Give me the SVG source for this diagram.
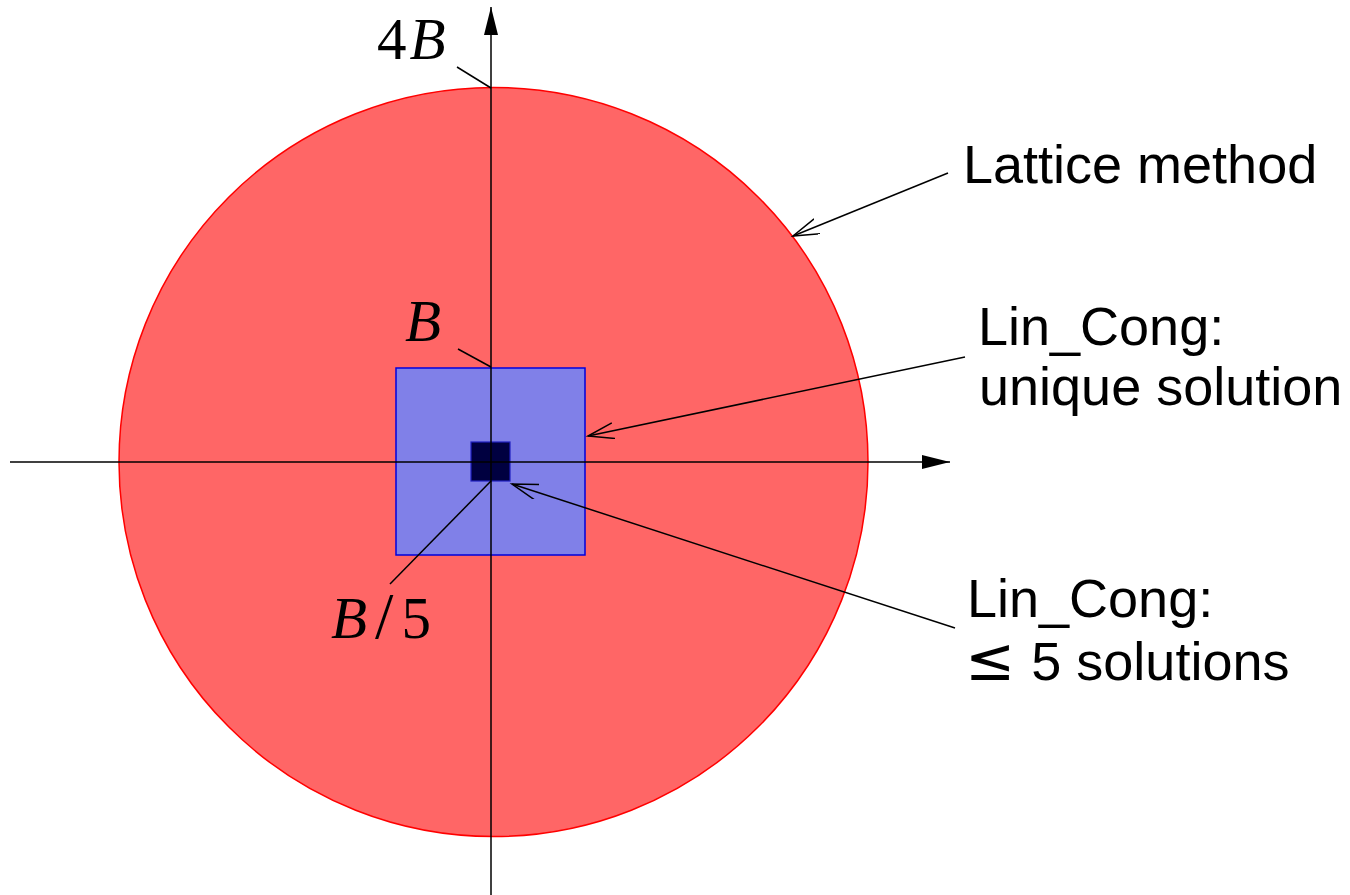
<svg xmlns="http://www.w3.org/2000/svg" width="1350" height="895" viewBox="0 0 1350 895">
<style>
.ax{stroke:#000;stroke-width:1.5;fill:none}
.ln{stroke:#000;stroke-width:1.5;fill:none}
.lbl{font-family:"Liberation Sans",Arial,sans-serif;font-size:54px;fill:#000}
.m{font-family:"Liberation Serif","Times New Roman",serif;font-size:59px;fill:#000}
.mi{font-style:italic}
</style>
<defs>
<marker id="fill" markerUnits="userSpaceOnUse" markerWidth="30" markerHeight="16" refX="28" refY="7" orient="auto" viewBox="0 0 30 16">
<path d="M0,0 L28,7 L0,14 Z" fill="#000"/>
</marker>
<marker id="open" markerUnits="userSpaceOnUse" markerWidth="30" markerHeight="20" refX="26" refY="8" orient="auto" viewBox="0 0 30 20">
<path d="M0,0 L26,8 L0,16" fill="none" stroke="#000" stroke-width="1.5"/>
</marker>
</defs>
<g id="circle"><circle cx="493.5" cy="462" r="374.5" fill="#FF6666" stroke="#FF0000" stroke-width="1.5"/></g>
<g id="square-B"><rect x="396" y="368" width="189" height="187" fill="#8080E8" stroke="#0000DD" stroke-width="1.5"/></g>
<g id="square-B5"><rect x="471" y="442" width="39" height="39" fill="#000040" stroke="#2020C0" stroke-width="1.2"/></g>
<g id="connectors">
<line class="ax" x1="491" y1="895" x2="491" y2="7" marker-end="url(#fill)"/>
<line class="ax" x1="10" y1="462" x2="950" y2="462" marker-end="url(#fill)"/>
<line class="ln" x1="457" y1="67" x2="491" y2="88"/>
<line class="ln" x1="458" y1="349" x2="491" y2="367"/>
<line class="ln" x1="390" y1="584" x2="491" y2="481"/>
<line class="ln" x1="948" y1="173" x2="793" y2="236" marker-end="url(#open)"/>
<line class="ln" x1="965" y1="357" x2="588" y2="436" marker-end="url(#open)"/>
<line class="ln" x1="955" y1="628" x2="512" y2="484" marker-end="url(#open)"/>
</g>
<g id="label-4B"><text class="m" x="377" y="59">4<tspan class="mi" dx="3">B</tspan></text></g>
<g id="label-B"><text class="m mi" x="405" y="341">B</text></g>
<g id="label-B5"><text class="m" x="331" y="638"><tspan class="mi">B</tspan><tspan dx="8" font-size="66">/</tspan><tspan dx="8">5</tspan></text></g>
<g id="label-lattice"><text class="lbl" x="963" y="183">Lattice method</text></g>
<g id="label-unique"><text class="lbl" x="978" y="345">Lin_Cong:</text><text class="lbl" x="979" y="405">unique solution</text></g>
<g id="label-five"><text class="lbl" x="967" y="617">Lin_Cong:</text><text class="lbl" x="965" y="680"><tspan font-family="DejaVu Sans, sans-serif" font-size="60">≤</tspan><tspan dx="16">5 solutions</tspan></text></g>
</svg>
